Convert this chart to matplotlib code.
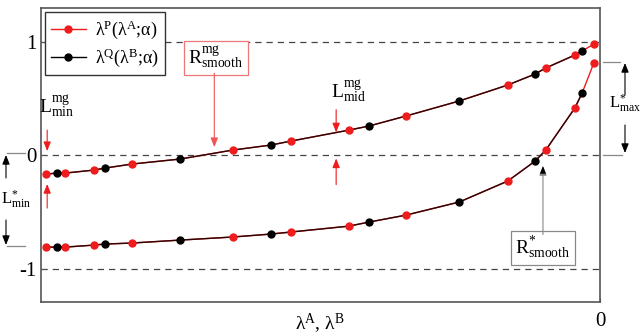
import matplotlib.pyplot as plt

plt.rcParams['mathtext.fontset'] = 'custom'
plt.rcParams['mathtext.rm'] = 'Liberation Serif'
plt.rcParams['mathtext.it'] = 'Liberation Serif:italic'
plt.rcParams['font.family'] = 'Liberation Serif'

# sample points (x runs from -1 to 0)
red_x = [-0.991, -0.957, -0.905, -0.837, -0.657, -0.553, -0.449, -0.347, -0.165, -0.097, -0.045, -0.011]
black_x = [-0.971, -0.886, -0.751, -0.589, -0.413, -0.252, -0.116, -0.032]

# mg branch (upper curve)
red_mg = [-0.167, -0.159, -0.132, -0.079, 0.044, 0.123, 0.220, 0.344, 0.617, 0.767, 0.881, 0.978]
black_mg = [-0.159, -0.115, -0.035, 0.088, 0.256, 0.476, 0.714, 0.916]

# * branch (lower curve)
red_star = [-0.811, -0.811, -0.793, -0.775, -0.722, -0.678, -0.626, -0.529, -0.229, 0.044, 0.414, 0.811]
black_star = [-0.811, -0.784, -0.749, -0.696, -0.590, -0.414, -0.053, 0.546]

red = '#ee1c1c'


def merged(xr, yr, xb, yb):
    pts = sorted(list(zip(xr, yr)) + list(zip(xb, yb)))
    return [p[0] for p in pts], [p[1] for p in pts]


fig = plt.figure(figsize=(6.41, 3.36), dpi=100)
ax = fig.add_axes([0.064, 0.101, 0.872, 0.875])

for yv in [1, 0, -1]:
    ax.axhline(yv, color='#444444', ls=(0, (5, 4)), lw=0.9, zorder=1)

# thin curves through all the samples, red part beyond last black sample
for yr, yb in [(red_mg, black_mg), (red_star, black_star)]:
    mx, my = merged(red_x, yr, black_x, yb)
    ax.plot(mx, my, color=red, lw=1.0, zorder=2)
    keep = [i for i, v in enumerate(mx) if v <= max(black_x)]
    ax.plot([mx[i] for i in keep], [my[i] for i in keep], color='#2a0505', lw=1.0, zorder=2)

# sample markers
ax.plot(red_x, red_mg, 'o', color=red, ms=5, zorder=3)
ax.plot(black_x, black_mg, 'o', color='black', ms=5, zorder=4)
ax.plot(red_x, red_star, 'o', color=red, ms=5, zorder=3)
ax.plot(black_x, black_star, 'o', color='black', ms=5, zorder=4)

h1, = ax.plot([], [], '-o', color=red, lw=1.0, ms=5)
h2, = ax.plot([], [], '-o', color='black', lw=1.0, ms=5)

ax.set_xlim(-1.0, 0.0)
ax.set_ylim(-1.295, 1.295)
ax.set_xticks([0])
ax.set_xticklabels(['0'])
ax.set_yticks([1, 0, -1])
ax.set_yticklabels(['1', '0', '-1'])
ax.tick_params(axis='both', direction='in', labelsize=15, length=3, color='#555555')
ax.tick_params(axis='x', pad=7)
ax.tick_params(axis='y', pad=3)
for s in ax.spines.values():
    s.set_color('#555555')
    s.set_linewidth(1.2)

ax.legend(handles=[h1, h2],
          labels=['λ$^{\\rm P}$(λ$^{\\rm A}$;α)', 'λ$^{\\rm Q}$(λ$^{\\rm B}$;α)'],
          loc='upper left', fontsize=13, frameon=True, fancybox=False,
          edgecolor='#333333', framealpha=1, handlelength=1.9, handletextpad=0.5,
          borderpad=0.35, labelspacing=0.3, borderaxespad=0,
          bbox_to_anchor=(0.007, 0.986))

arr = dict(arrowstyle='-|>,head_width=0.22,head_length=0.55', lw=0.8, shrinkA=0, shrinkB=0)

# L^mg_min
ax.text(-0.972, 0.43, r'$\rm L^{mg}_{min}$', fontsize=14, ha='center', va='center')
ax.annotate('', xy=(-0.989, 0.035), xytext=(-0.989, 0.22), arrowprops=dict(arr, color=red))
ax.annotate('', xy=(-0.989, -0.255), xytext=(-0.989, -0.467), arrowprops=dict(arr, color=red))

# R^mg_smooth
ax.text(-0.687, 0.855, r'$\rm R^{mg}_{smooth}$', fontsize=14, ha='center', va='center',
        bbox=dict(boxstyle='square,pad=0.2', fc='white', ec='#ee7777', lw=0.9))
ax.annotate('', xy=(-0.690, 0.07), xytext=(-0.690, 0.72), arrowprops=dict(arr, color='#ee5555'))

# L^mg_mid
ax.text(-0.45, 0.555, r'$\rm L^{mg}_{mid}$', fontsize=14, ha='center', va='center')
ax.annotate('', xy=(-0.472, 0.20), xytext=(-0.472, 0.40), arrowprops=dict(arr, color=red))
ax.annotate('', xy=(-0.472, -0.03), xytext=(-0.472, -0.26), arrowprops=dict(arr, color=red))

# R*_smooth
ax.text(-0.102, -0.82, r'$\rm R^{*}_{smooth}$', fontsize=14, ha='center', va='center',
        bbox=dict(boxstyle='square,pad=0.2', fc='white', ec='#888888', lw=0.9))
ax.annotate('', xy=(-0.102, -0.097), xytext=(-0.102, -0.70), arrowprops=dict(arr, color='#888888'))
ax.annotate('', xy=(-0.102, -0.097), xytext=(-0.102, -0.25),
            arrowprops=dict(arr, color='black', lw=0.0))

# outside annotations, in figure pixels (origin bottom-left)
H = 336
gray = '#888888'


def fpx(px, py):
    return (px, H - py)


for (x0, x1, py) in [(603, 620, 62), (603, 622, 155), (7, 25, 153), (7, 25, 246)]:
    fig.add_artist(plt.Line2D([x0 / 641, x1 / 641], [1 - py / H, 1 - py / H],
                              color=gray, lw=0.9))

for (px, y0, y1) in [(625, 95, 63), (625, 125, 153), (6, 178, 155), (6, 220, 245)]:
    ax.annotate('', xy=fpx(px, y1), xytext=fpx(px, y0), xycoords='figure pixels',
                textcoords='figure pixels', arrowprops=dict(arr, color='black'),
                annotation_clip=False)

fig.text(609 / 641, 1 - 103 / H, r'$\rm L^{*}_{max}$', fontsize=12, ha='left', va='center')
fig.text(1 / 641, 1 - 200 / H, r'$\rm L^{*}_{min}$', fontsize=12, ha='left', va='center')

fig.text(320 / 641, 1 - 324 / H, 'λ$^{\\rm A}$, λ$^{\\rm B}$', fontsize=14, ha='center', va='center')

fig.savefig('out.png', dpi=100)
